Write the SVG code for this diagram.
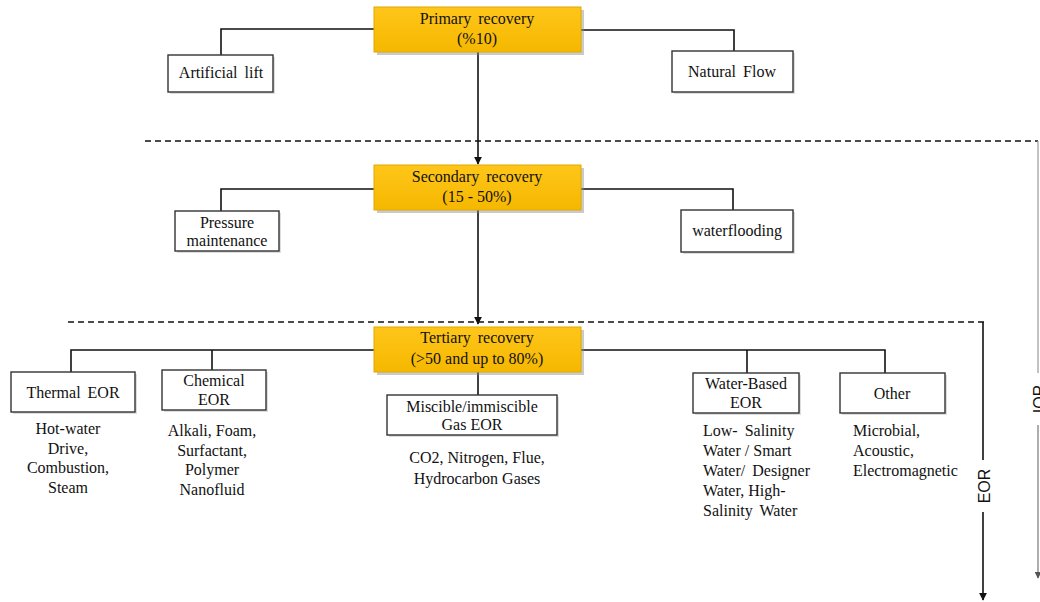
<svg xmlns="http://www.w3.org/2000/svg" width="1040" height="602" viewBox="0 0 1040 602">
<defs>
<linearGradient id="gold" x1="0" y1="0" x2="0" y2="1">
<stop offset="0" stop-color="#FFC61A"/>
<stop offset="1" stop-color="#F5B800"/>
</linearGradient>
<marker id="arr" viewBox="0 0 10 10" refX="9" refY="5" markerWidth="8" markerHeight="8" markerUnits="userSpaceOnUse" orient="auto">
<path d="M0,0 L10,5 L0,10 z" fill="#111"/>
</marker>
<marker id="arrg" viewBox="0 0 10 10" refX="9" refY="5" markerWidth="7" markerHeight="7" markerUnits="userSpaceOnUse" orient="auto">
<path d="M0,0 L10,5 L0,10 z" fill="#555"/>
</marker>
</defs>
<style>
text{font-family:"Liberation Serif","Times New Roman",serif;font-size:16px;fill:#111}
.c{text-anchor:middle}
.w{word-spacing:3px}
.gold{fill:url(#gold);stroke:#E0A800;stroke-width:1}
.shadow{fill:#8a8a8a;opacity:0.45}
.box{fill:#fff;stroke:#333;stroke-width:1.4}
.bshadow{fill:#bbb;opacity:0.5}
.ln{fill:none;stroke:#111;stroke-width:1.6}
.dash{fill:none;stroke:#111;stroke-width:1.3;stroke-dasharray:6,4}
.sans{font-family:"Liberation Sans",Arial,sans-serif;font-size:16px}
</style>
<rect width="1040" height="602" fill="#fff"/>

<g id="connectors">
<path class="ln" d="M374,29 H221 V55"/>
<path class="ln" d="M581,30 H734 V51"/>
<path class="ln" d="M478,52 V164" marker-end="url(#arr)"/>
<path class="ln" d="M374,189 H221 V211"/>
<path class="ln" d="M581,189 H733 V210"/>
<path class="ln" d="M478,210 V324" marker-end="url(#arr)"/>
<path class="ln" d="M374,350 H71 V372"/>
<path class="ln" d="M212,350 V370"/>
<path class="ln" d="M581,350 H885 V373"/>
<path class="ln" d="M747,350 V373"/>
<path class="ln" d="M478,372 V395"/>
<path class="dash" d="M145,141 H1038"/>
<path class="dash" d="M68,322 H985"/>
<path class="ln" d="M983,322 V460"/>
<path class="ln" d="M983,512 V600" marker-end="url(#arr)"/>
<path fill="none" stroke="#999" stroke-width="1.2" d="M1038,141 V373"/>
<path fill="none" stroke="#777" stroke-width="1.2" d="M1038,425 V578" marker-end="url(#arrg)"/>
<text class="sans c" transform="translate(990,486) rotate(-90)">EOR</text>
<text class="sans c" fill="#333" transform="translate(1045,399) rotate(-90)">IOR</text>
</g>

<g id="primary">
<rect class="shadow" x="377" y="10" width="207" height="45"/>
<rect class="gold" x="374" y="7" width="207" height="45"/>
<text class="c w" x="477" y="24">Primary recovery</text>
<text class="c" x="477" y="44">(%10)</text>
</g>
<g id="artificial-lift">
<rect class="bshadow" x="170" y="57" width="105" height="37"/>
<rect class="box" x="168" y="55" width="105" height="37"/>
<text class="c w" x="221" y="78">Artificial lift</text>
</g>
<g id="natural-flow">
<rect class="bshadow" x="674" y="53" width="121" height="41"/>
<rect class="box" x="672" y="51" width="121" height="41"/>
<text class="c w" x="732" y="77">Natural Flow</text>
</g>

<g id="secondary">
<rect class="shadow" x="377" y="168" width="207" height="45"/>
<rect class="gold" x="374" y="165" width="207" height="45"/>
<text class="c w" x="477" y="182">Secondary recovery</text>
<text class="c" x="477" y="202">(15 - 50%)</text>
</g>
<g id="pressure-maintenance">
<rect class="bshadow" x="177" y="213" width="104" height="40"/>
<rect class="box" x="175" y="211" width="104" height="40"/>
<text class="c" x="227" y="228">Pressure</text>
<text class="c" x="227" y="246">maintenance</text>
</g>
<g id="waterflooding">
<rect class="bshadow" x="683" y="212" width="112" height="42"/>
<rect class="box" x="681" y="210" width="112" height="42"/>
<text class="c" x="737" y="236">waterflooding</text>
</g>

<g id="tertiary">
<rect class="shadow" x="377" y="330" width="207" height="45"/>
<rect class="gold" x="374" y="327" width="207" height="45"/>
<text class="c w" x="477" y="343">Tertiary recovery</text>
<text class="c" x="477" y="364">(&gt;50 and up to 80%)</text>
</g>
<g id="thermal-eor">
<rect class="bshadow" x="13" y="374" width="124" height="40"/>
<rect class="box" x="11" y="372" width="124" height="40"/>
<text class="c w" x="73" y="398">Thermal EOR</text>
<text class="c" x="68" y="434">Hot-water</text>
<text class="c" x="68" y="454">Drive,</text>
<text class="c" x="68" y="473">Combustion,</text>
<text class="c" x="68" y="493">Steam</text>
</g>
<g id="chemical-eor">
<rect class="bshadow" x="164" y="372" width="104" height="40"/>
<rect class="box" x="162" y="370" width="104" height="40"/>
<text class="c" x="214" y="386">Chemical</text>
<text class="c" x="214" y="405">EOR</text>
<text class="c" x="212" y="436">Alkali, Foam,</text>
<text class="c" x="212" y="456">Surfactant,</text>
<text class="c" x="212" y="475">Polymer</text>
<text class="c" x="212" y="495">Nanofluid</text>
</g>
<g id="gas-eor">
<rect class="bshadow" x="389" y="397" width="170" height="40"/>
<rect class="box" x="387" y="395" width="170" height="40"/>
<text class="c" x="472" y="412">Miscible/immiscible</text>
<text class="c" x="472" y="430">Gas EOR</text>
<text class="c" x="477" y="463">CO2, Nitrogen, Flue,</text>
<text class="c" x="477" y="484">Hydrocarbon Gases</text>
</g>
<g id="water-based-eor">
<rect class="bshadow" x="695" y="375" width="106" height="40"/>
<rect class="box" x="693" y="373" width="106" height="40"/>
<text class="c" x="746" y="389">Water-Based</text>
<text class="c" x="746" y="408">EOR</text>
<text class="w" x="703" y="436">Low- Salinity</text>
<text x="703" y="456">Water / Smart</text>
<text class="w" x="703" y="476">Water/ Designer</text>
<text x="703" y="496">Water, High-</text>
<text class="w" x="703" y="516">Salinity Water</text>
</g>
<g id="other">
<rect class="bshadow" x="842" y="375" width="105" height="40"/>
<rect class="box" x="840" y="373" width="105" height="40"/>
<text class="c" x="892" y="399">Other</text>
<text x="853" y="436">Microbial,</text>
<text x="853" y="456">Acoustic,</text>
<text x="853" y="476">Electromagnetic</text>
</g>
</svg>
